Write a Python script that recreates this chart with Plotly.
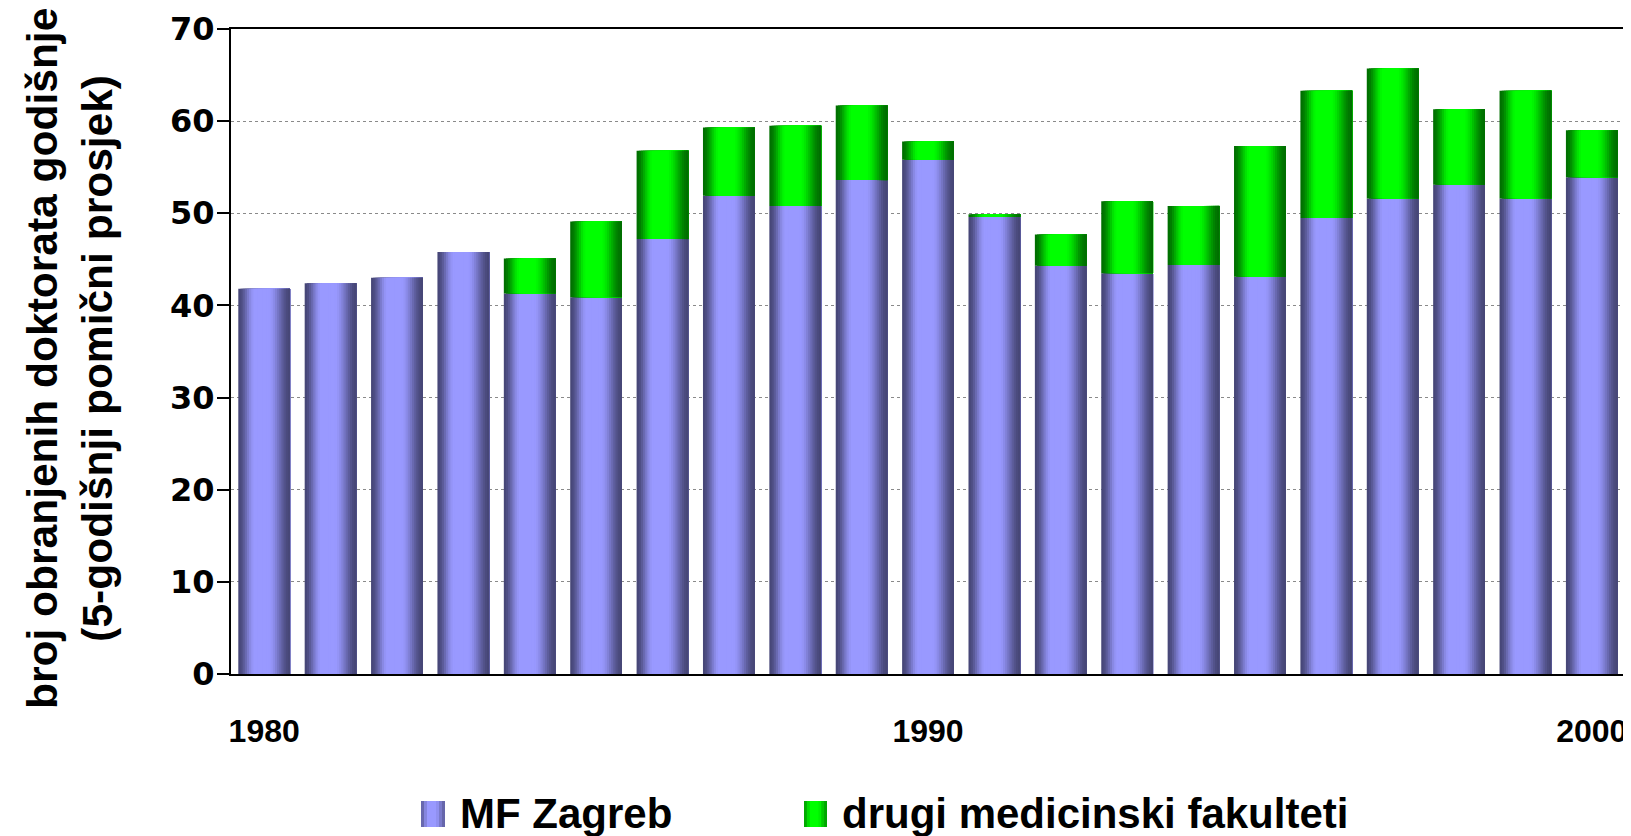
import plotly.graph_objects as go

# ---- data ----
years = list(range(1980, 2001))
mf_zagreb = [41.8, 42.4, 43.0, 45.8, 41.3, 40.9, 47.2, 51.9, 50.8, 53.6, 55.8,
             49.6, 44.3, 43.5, 44.4, 43.1, 49.5, 51.6, 53.1, 51.6, 53.9]
drugi_fakulteti = [0.0, 0.0, 0.0, 0.0, 3.8, 8.2, 9.6, 7.4, 8.7, 8.1, 2.0,
                   0.3, 3.4, 7.8, 6.4, 14.2, 13.8, 14.1, 8.2, 11.7, 5.1]
series_names = ["MF Zagreb", "drugi medicinski fakulteti"]
x_tick_vals = [1980, 1990, 2000]
y_tick_vals = [0, 10, 20, 30, 40, 50, 60, 70]
y_title = "broj obranjenih doktorata godišnje<br>(5-godišnji pomični prosjek)"

# ---- styling ----
OFF = 8  # page body margin in the browser
W, H = 1631 - OFF, 836 - OFF
ML, MT = 231 - OFF, 29 - OFF
PLOT_R, PLOT_B = 1625 - OFF, 674 - OFF
MR, MB = W - PLOT_R, H - PLOT_B
PW, PH = PLOT_R - ML, PLOT_B - MT
BAR_W = 0.78
K = 24  # strips used to imitate the horizontal shading of each bar

PURPLE_LIGHT, PURPLE_DARK = (153, 153, 255), (70, 70, 118)
GREEN_LIGHT, GREEN_DARK = (0, 255, 0), (0, 110, 0)


def profile(t):
    if t < 0.32:
        s = t / 0.32
    elif t <= 0.58:
        s = 1.0
    else:
        s = (1.0 - t) / 0.42
    s = max(0.0, min(1.0, s))
    return s * s * (3 - 2 * s)


def mix(dark, light, f):
    return "rgb({},{},{})".format(*[round(d + (l - d) * f) for d, l in zip(dark, light)])


fig = go.Figure()

for values, base, dark, light in [
    (mf_zagreb, None, PURPLE_DARK, PURPLE_LIGHT),
    (drugi_fakulteti, mf_zagreb, GREEN_DARK, GREEN_LIGHT),
]:
    for k in range(K):
        t = (k + 0.5) / K
        start = -BAR_W / 2 + k * BAR_W / K
        fig.add_trace(go.Bar(
            x=years, y=values, base=base,
            width=BAR_W - k * BAR_W / K,
            offset=start,
            marker=dict(color=mix(dark, light, profile(t)), line=dict(width=0)),
            showlegend=False, hoverinfo="skip" if k else "x+y",
        ))


def px_x(p):
    return (p - OFF - ML) / PW


def px_y(p):
    return (PLOT_B - (p - OFF)) / PH


# manual legend (large squares), positions in reference pixels
legend_items = [
    (series_names[0], 421, 445, 458, PURPLE_DARK, PURPLE_LIGHT),
    (series_names[1], 804, 827, 840, GREEN_DARK, GREEN_LIGHT),
]
shapes = []
annotations = []
for name, x0, x1, tx, dark, light in legend_items:
    n = 8
    for k in range(n):
        t = (k + 0.5) / n
        shapes.append(dict(
            type="rect", xref="paper", yref="paper",
            x0=px_x(x0 + (x1 - x0) * k / n), x1=px_x(x1),
            y0=px_y(827), y1=px_y(801),
            fillcolor=mix(dark, light, 0.35 + 0.65 * profile(t)), line=dict(width=0),
        ))
    annotations.append(dict(
        text=name, xref="paper", yref="paper", x=px_x(tx), y=px_y(813),
        xanchor="left", yanchor="middle", showarrow=False,
        font=dict(family="Liberation Sans", size=42, color="black", weight="bold"),
    ))

annotations.append(dict(
    text=y_title, xref="paper", yref="paper", x=px_x(70), y=px_y(359),
    xanchor="center", yanchor="middle", textangle=-90, showarrow=False,
    font=dict(family="Liberation Sans", size=42.5, color="black", weight="bold"),
))

fig.update_layout(
    width=W, height=H,
    margin=dict(l=ML, r=MR, t=MT, b=MB, autoexpand=False),
    barmode="overlay",
    plot_bgcolor="white", paper_bgcolor="white",
    showlegend=False,
    shapes=shapes, annotations=annotations,
    xaxis=dict(
        range=[1979.5, 2000.5], tickvals=x_tick_vals, ticks="",
        showgrid=False, zeroline=False,
        showline=True, linecolor="black", linewidth=2, mirror=True,
        ticklabelstandoff=28,
        tickfont=dict(family="Liberation Sans", size=32, color="black", weight="bold"),
    ),
    yaxis=dict(
        range=[0, 70], tickvals=y_tick_vals, ticks="outside", ticklen=12,
        tickwidth=2, tickcolor="black",
        showgrid=True, gridcolor="#8a8a8a", griddash="dot", gridwidth=1,
        zeroline=False,
        showline=True, linecolor="black", linewidth=2, mirror=True,
        ticklabelstandoff=-4,
        tickfont=dict(family="DejaVu Sans", size=32, color="black", weight="bold"),
    ),
)

fig.write_html("out.html")
